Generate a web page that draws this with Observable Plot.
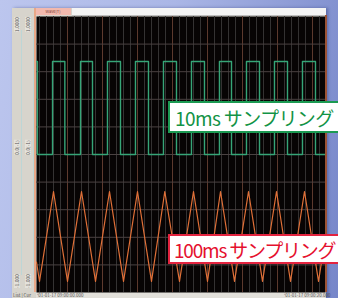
<!DOCTYPE html>
<html><head><meta charset="utf-8">
<script src="https://cdn.jsdelivr.net/npm/d3@7"></script>
<script src="https://cdn.jsdelivr.net/npm/@observablehq/plot@0.6"></script>
<style>
html,body{margin:0;padding:0;}
body{width:338px;height:298px;overflow:hidden;position:relative;background:linear-gradient(100deg,#bcc6ee 0%,#aab6e6 45%,#7686c9 100%);font-family:"Noto Sans CJK JP","Noto Sans",sans-serif;}
#win{position:absolute;left:12px;top:8px;width:314px;height:290px;background:#d7d4cc;box-shadow:2px 0 3px rgba(40,50,110,0.45);}
#topbar{position:absolute;left:72px;top:8px;width:254px;height:7px;background:#f4f4f4;border-bottom:1px solid #bdbdbd;}
#tab{position:absolute;left:35px;top:8px;width:36px;height:7px;background:#f2b9ae;font-size:4px;color:#7a3a30;text-align:center;line-height:7px;}
#lborder{position:absolute;left:34px;top:8px;width:2px;height:284px;background:#e8a888;}
#rborder{position:absolute;left:325px;top:15px;width:1.5px;height:277px;background:#9a5234;}
.vline{position:absolute;top:30px;width:1px;height:245px;background:#bcd6d6;}
.vt{position:absolute;font-size:4.5px;color:#555;writing-mode:vertical-rl;transform:rotate(180deg);letter-spacing:0.2px;background:#e4e2dc;}
#bottom{position:absolute;left:36px;top:292px;width:289px;height:6px;background:#e2e0da;}
.bt{position:absolute;font-size:4.5px;color:#555;line-height:6px;top:292px;white-space:nowrap;}
#chart{position:absolute;left:0;top:0;}
.lbl{position:absolute;left:168px;width:176px;background:#fff;box-sizing:border-box;display:flex;align-items:center;font-size:19px;font-weight:400;font-family:"Noto Sans CJK JP",sans-serif;white-space:nowrap;overflow:hidden;line-height:1;}
#l1{top:101px;height:32px;border:2px solid #1b9a52;color:#129346;padding-left:5px;letter-spacing:-0.6px;}
#l2{top:234px;height:30px;border:2px solid #e3233f;color:#e5102e;padding-left:4px;letter-spacing:-1.2px;}
</style></head><body>
<div id="win"></div>
<div id="topbar"></div>
<div id="tab">Wave(T)</div>
<div class="vline" style="left:21px"></div>
<div class="vline" style="left:33px"></div>
<div class="vt" style="left:14px;top:17px">1.0000</div>
<div class="vt" style="left:25px;top:17px">1.0000</div>
<div class="vt" style="left:14px;top:140px">0.0(-1)</div>
<div class="vt" style="left:25px;top:140px">0.0(-1)</div>
<div class="vt" style="left:14px;top:274px">-1.000</div>
<div class="vt" style="left:25px;top:274px">-1.000</div>
<div id="bottom"></div>
<div class="bt" style="left:13px">List | Cur</div>
<div class="bt" style="left:37px">'01-01-17 09:00:00.000</div>
<div class="bt" style="left:284px">'01-01-17 09:00:20.000</div>
<div id="chart"></div>
<div id="lborder"></div>
<div id="rborder"></div>
<div class="lbl" id="l1">10ms サンプリング</div>
<div class="lbl" id="l2">100ms サンプリング</div>
<script>
// Square wave (10ms sampling): time (grid divisions) and level
const squareT = [-0.43, -0.29, 1.86, 3.62, 5.86, 7.57, 9.71, 11.57, 13.71, 15.57, 17.71, 19.57, 21.71, 23.57, 25.71, 27.43, 29.57, 31.43, 33.57, 35.43, 37.57, 39.43, 40.86];
const squareV = [8.37, 5.0, 8.37, 5.0, 8.37, 5.0, 8.37, 5.0, 8.37, 5.0, 8.37, 5.0, 8.37, 5.0, 8.37, 5.0, 8.37, 5.0, 8.37, 5.0, 8.37, 5.0, 5.0];
// Triangle wave (100ms sampling)
const triT = [-0.43, 0, 2, 4, 6, 8, 10, 12, 14, 16, 17.9, 20, 22, 24, 25.86, 27.86, 29.86, 31.86, 33.86, 35.86, 37.86, 39.86, 40.86];
const triV = [1.1, 0.4, 3.66, 0.4, 3.66, 0.4, 3.66, 0.4, 3.66, 0.4, 3.66, 0.4, 3.66, 0.4, 3.66, 0.4, 3.66, 0.4, 3.66, 0.4, 3.66, 0.4, 2.03];
// Grid
const gridMinorX = d3.range(0, 41, 1);
const gridMajorX = [4, 9, 14, 19, 24, 29, 34, 39];
const gridY = [1, 2, 3, 4, 5, 6, 7, 8, 9];

const squareData = squareT.map((t, i) => ({t, v: squareV[i]}));
const triData = triT.map((t, i) => ({t, v: triV[i]}));

const chart = Plot.plot({
  width: 338, height: 298,
  marginLeft: 36, marginRight: 13, marginTop: 16, marginBottom: 6,
  x: {domain: [-0.43, 40.86], axis: null},
  y: {domain: [0, 10], axis: null},
  style: {background: "transparent", overflow: "visible"},
  marks: [
    Plot.frame({fill: "#070404", stroke: "none"}),
    Plot.ruleX(gridMinorX, {stroke: "#353333", strokeWidth: 1}),
    Plot.ruleX(gridMajorX, {stroke: "#5e3a2e", strokeWidth: 1}),
    Plot.ruleY(gridY, {stroke: "#4a4242", strokeWidth: 1}),
    Plot.line(squareData, {x: "t", y: "v", curve: "step-after", stroke: "#36a577", strokeWidth: 1.4, clip: true}),
    Plot.line(triData, {x: "t", y: "v", stroke: "#e07038", strokeWidth: 1.2, clip: true})
  ]
});
document.getElementById("chart").appendChild(chart);
</script>
</body></html>
